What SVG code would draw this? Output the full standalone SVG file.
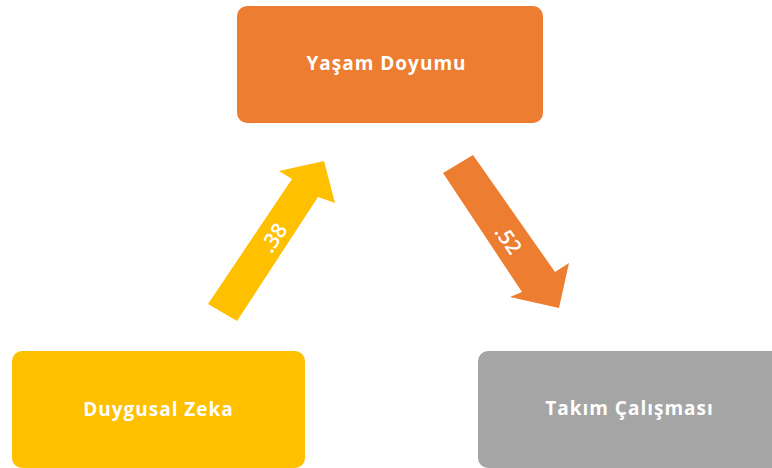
<svg xmlns="http://www.w3.org/2000/svg" width="772" height="468" viewBox="0 0 772 468">
  <style>
    .lbl { font-family: "Open Sans", "DejaVu Sans", sans-serif; font-weight: bold; font-size: 19px; letter-spacing: 1px; fill: #ffffff; text-anchor: middle; }
    .num { font-family: "Open Sans", "DejaVu Sans", sans-serif; font-weight: 600; font-size: 21px; fill: #ffffff; text-anchor: middle; }
  </style>
  <rect width="772" height="468" fill="#ffffff"/>
  <g id="connectors">
    <g id="arrow-dz-yd">
      <polygon points="208,304 237,321 318,197 335,203 324,161 279,171 292,179" fill="#FFC000"/>
      <text class="num" transform="translate(274,238) rotate(-56)" dy="7">.38</text>
    </g>
    <g id="arrow-yd-tc">
      <polygon points="443,173 473,155 555,272 569,263 559,308 510,297 522,292" fill="#ED7D31"/>
      <text class="num" transform="translate(508,240) rotate(55)" dy="7">.52</text>
    </g>
  </g>
  <g id="yasam-doyumu">
    <rect x="237" y="6" width="306" height="117" rx="10" fill="#ED7D31"/>
    <text class="lbl" x="386.5" y="70">Yaşam Doyumu</text>
  </g>
  <g id="duygusal-zeka">
    <rect x="12" y="351" width="293" height="117" rx="10" fill="#FFC000"/>
    <text class="lbl" x="158.5" y="416">Duygusal Zeka</text>
  </g>
  <g id="takim-calismasi">
    <rect x="478" y="351" width="310" height="117" rx="10" fill="#A5A5A5"/>
    <text class="lbl" x="629.5" y="415">Takım Çalışması</text>
  </g>
</svg>
